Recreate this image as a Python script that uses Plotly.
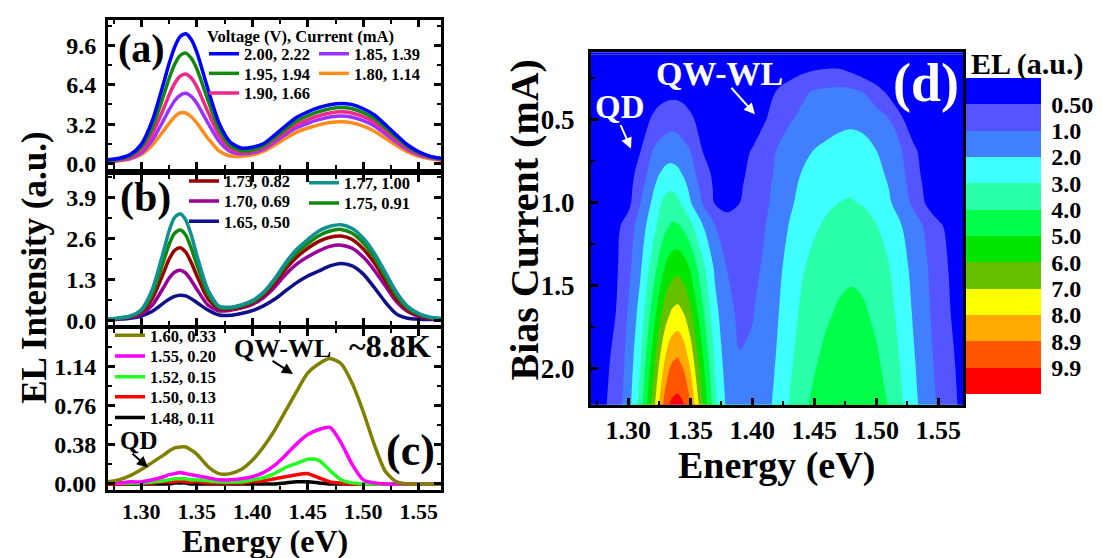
import numpy as np
import plotly.graph_objects as go

# ---------------- data ----------------
energy = [1.27, 1.28, 1.29, 1.30, 1.31, 1.32, 1.325, 1.33, 1.335, 1.34, 1.345, 1.35, 1.36, 1.37,
          1.38, 1.39, 1.40, 1.41, 1.42, 1.43, 1.44, 1.45, 1.46, 1.47, 1.48, 1.49, 1.50, 1.51,
          1.52, 1.53, 1.54, 1.55, 1.56, 1.57]

# panel (a)
el_222 = [0.30, 0.42, 0.72, 1.55, 3.50, 6.50, 8.10, 9.45, 10.32, 10.55, 10.08, 9.05, 6.05, 3.30,
          1.75, 1.25, 1.32, 1.60, 2.30, 3.05, 3.75, 4.20, 4.55, 4.78, 4.87, 4.78, 4.45, 3.95,
          3.15, 2.30, 1.50, 0.95, 0.60, 0.42]
el_194 = [0.26, 0.36, 0.62, 1.32, 2.95, 5.50, 6.90, 8.05, 8.78, 8.97, 8.55, 7.70, 5.15, 2.80,
          1.45, 1.04, 1.10, 1.42, 2.08, 2.80, 3.45, 3.88, 4.22, 4.45, 4.55, 4.45, 4.13, 3.65,
          2.90, 2.10, 1.38, 0.87, 0.56, 0.38]
el_166 = [0.22, 0.30, 0.50, 1.07, 2.40, 4.45, 5.55, 6.50, 7.10, 7.28, 6.95, 6.25, 4.20, 2.30,
          1.22, 0.92, 0.98, 1.28, 1.90, 2.57, 3.17, 3.57, 3.88, 4.10, 4.20, 4.10, 3.80, 3.35,
          2.65, 1.90, 1.24, 0.78, 0.50, 0.34]
el_139 = [0.19, 0.26, 0.42, 0.86, 1.90, 3.50, 4.35, 5.10, 5.55, 5.70, 5.45, 4.90, 3.30, 1.82,
          0.98, 0.79, 0.86, 1.15, 1.72, 2.35, 2.90, 3.27, 3.56, 3.77, 3.85, 3.76, 3.48, 3.05,
          2.40, 1.72, 1.12, 0.70, 0.45, 0.30]
el_114 = [0.16, 0.22, 0.36, 0.72, 1.50, 2.65, 3.25, 3.80, 4.12, 4.10, 3.80, 3.30, 2.05, 1.02,
          0.60, 0.58, 0.70, 0.98, 1.48, 2.05, 2.55, 2.88, 3.14, 3.33, 3.40, 3.30, 3.03, 2.62,
          2.05, 1.45, 0.93, 0.58, 0.37, 0.25]
# panel (b)
el_100 = [0.06, 0.09, 0.15, 0.35, 1.00, 2.20, 2.85, 3.28, 3.40, 3.20, 2.72, 2.08, 0.98, 0.46,
          0.43, 0.50, 0.64, 0.90, 1.32, 1.84, 2.27, 2.58, 2.85, 3.00, 3.05, 2.93, 2.62, 2.14,
          1.52, 0.90, 0.46, 0.23, 0.11, 0.07]
el_091 = [0.05, 0.08, 0.14, 0.31, 0.86, 1.88, 2.42, 2.78, 2.88, 2.72, 2.30, 1.78, 0.85, 0.42,
          0.40, 0.47, 0.60, 0.86, 1.27, 1.76, 2.16, 2.45, 2.70, 2.85, 2.90, 2.78, 2.47, 2.00,
          1.40, 0.80, 0.40, 0.20, 0.10, 0.06]
el_082 = [0.05, 0.07, 0.13, 0.27, 0.71, 1.52, 1.95, 2.23, 2.32, 2.18, 1.85, 1.43, 0.70, 0.38,
          0.37, 0.44, 0.57, 0.80, 1.18, 1.64, 2.02, 2.30, 2.52, 2.65, 2.69, 2.58, 2.28, 1.83,
          1.27, 0.70, 0.34, 0.17, 0.08, 0.05]
el_069 = [0.04, 0.06, 0.11, 0.21, 0.50, 1.05, 1.35, 1.54, 1.60, 1.51, 1.28, 1.00, 0.50, 0.31,
          0.33, 0.40, 0.52, 0.73, 1.06, 1.47, 1.80, 2.03, 2.22, 2.36, 2.40, 2.30, 2.02, 1.60,
          1.10, 0.60, 0.29, 0.14, 0.07, 0.05]
el_050 = [0.03, 0.05, 0.08, 0.15, 0.30, 0.56, 0.68, 0.77, 0.81, 0.79, 0.70, 0.58, 0.34, 0.18,
          0.17, 0.23, 0.32, 0.47, 0.68, 0.95, 1.21, 1.42, 1.58, 1.74, 1.82, 1.74, 1.48, 1.05,
          0.58, 0.21, 0.08, 0.05, 0.04, 0.04]
# panel (c)
el_033 = [0.02, 0.04, 0.08, 0.14, 0.21, 0.28, 0.32, 0.35, 0.36, 0.36, 0.33, 0.29, 0.17, 0.10,
          0.10, 0.14, 0.23, 0.36, 0.52, 0.71, 0.90, 1.08, 1.17, 1.22, 1.17, 0.98, 0.70, 0.38,
          0.12, 0.02, 0.00, 0.00, 0.00, 0.00]
el_020 = [0.01, 0.01, 0.02, 0.02, 0.04, 0.07, 0.09, 0.10, 0.11, 0.10, 0.09, 0.08, 0.06, 0.04,
          0.04, 0.05, 0.07, 0.11, 0.18, 0.28, 0.39, 0.48, 0.53, 0.55, 0.40, 0.19, 0.04, 0.01,
          0.00, 0.00, 0.00, 0.00, 0.00, 0.00]
el_015 = [0.01, 0.01, 0.01, 0.01, 0.02, 0.03, 0.04, 0.05, 0.05, 0.05, 0.04, 0.04, 0.03, 0.02,
          0.02, 0.02, 0.04, 0.06, 0.10, 0.16, 0.20, 0.24, 0.23, 0.13, 0.04, 0.01, 0.00, 0.00,
          0.00, 0.00, 0.00, 0.00, 0.00, 0.00]
el_013 = [0.00, 0.00, 0.01, 0.01, 0.01, 0.02, 0.02, 0.02, 0.03, 0.02, 0.02, 0.02, 0.01, 0.01,
          0.01, 0.01, 0.02, 0.03, 0.05, 0.07, 0.09, 0.10, 0.06, 0.02, 0.01, 0.00, 0.00, 0.00,
          0.00, 0.00, 0.00, 0.00, 0.00, 0.00]
el_011 = [0.00, 0.00, 0.00, 0.00, 0.00, 0.00, 0.00, 0.01, 0.01, 0.01, 0.00, 0.00, 0.00, 0.00,
          0.00, 0.00, 0.00, 0.00, 0.00, 0.01, 0.02, 0.02, 0.01, 0.00, 0.00, 0.00, 0.00, 0.00,
          0.00, 0.00, 0.00, 0.00, 0.00, 0.00]

labels_a = ["2.00, 2.22", "1.95, 1.94", "1.90, 1.66", "1.85, 1.39", "1.80, 1.14"]
labels_b = ["1.73, 0.82", "1.70, 0.69", "1.65, 0.50", "1.77, 1.00", "1.75, 0.91"]
labels_c = ["1.60, 0.33", "1.55, 0.20", "1.52, 0.15", "1.50, 0.13", "1.48, 0.11"]

bias_current = [0.11, 0.13, 0.15, 0.20, 0.33, 0.50, 0.69, 0.82, 0.91, 1.00, 1.14, 1.39, 1.66, 1.94, 2.22]
el_levels = [0.5, 1.0, 2.0, 3.0, 4.0, 5.0, 6.0, 7.0, 8.0, 8.9, 9.9]
level_labels = ["0.50", "1.0", "2.0", "3.0", "4.0", "5.0", "6.0", "7.0", "8.0", "8.9", "9.9"]

# ---------------- styles ----------------
F = "Liberation Serif"
W, H = 1102, 558


def fx(p):
    return p / W


def fy(p):
    return 1 - p / H


def font(size, color="black"):
    return dict(family=F, size=size, color=color, weight="bold")


series_a = [el_222, el_194, el_166, el_139, el_114]
colors_a = ["#0000FF", "#118811", "#F0288C", "#9933FF", "#FF8C1A"]
leg_a = [(201, 46.7), (201, 66.7), (201, 86.7), (311, 46.7), (311, 66.7)]

series_b = [el_082, el_069, el_050, el_100, el_091]
colors_b = ["#990000", "#990099", "#101088", "#119090", "#118811"]
leg_b = [(181, 176), (181, 196.5), (181, 217), (301, 178), (301, 198.5)]

series_c = [el_033, el_020, el_015, el_013, el_011]
colors_c = ["#808000", "#FF00FF", "#22FF22", "#FF0000", "#000000"]
leg_c = [(107, 333), (107, 354), (107, 375), (107, 395.5), (107, 416.5)]

band_colors = ["#0000FF", "#5555FF", "#4080FF", "#40FFFF", "#2AFFAA", "#00FF48",
               "#00E600", "#66C000", "#FFFF00", "#FFAA00", "#FF5500", "#FF0000"]

fig = go.Figure()
layout = {}
leg_idx = [0]


def add_panel(series, colors, labels, legpos, xa, ya, draw_order):
    for i in draw_order:
        leg_idx[0] += 1
        k = leg_idx[0]
        lname = "legend" if k == 1 else f"legend{k}"
        fig.add_trace(go.Scatter(
            x=energy, y=series[i], mode="lines", name=labels[i],
            line=dict(color=colors[i], width=3.5, shape="spline", smoothing=0.7),
            xaxis=xa, yaxis=ya, legend=lname, hoverinfo="skip"))
        lx, ly = legpos[i]
        layout[lname] = dict(x=fx(lx - 5), y=fy(ly), xanchor="left", yanchor="middle",
                             bgcolor="rgba(0,0,0,0)", borderwidth=0, font=font(16.5),
                             itemwidth=30, tracegroupgap=0)


add_panel(series_a, colors_a, labels_a, leg_a, "x", "y", [4, 3, 2, 1, 0])
add_panel(series_b, colors_b, labels_b, leg_b, "x2", "y2", [2, 1, 0, 4, 3])
add_panel(series_c, colors_c, labels_c, leg_c, "x3", "y3", [4, 3, 2, 1, 0])

# ---------------- contour (d) ----------------
z = np.array([el_011, el_013, el_015, el_020, el_033, el_050, el_069, el_082, el_091,
              el_100, el_114, el_139, el_166, el_194, el_222])
# map intensities onto (negated) level-index space: the non-uniform levels become uniform,
# and the colour bar reads low -> high from top to bottom as in the original
n_lev = len(el_levels)
z_idx = -np.interp(z, [0.0] + el_levels + [12.0], list(range(n_lev + 2)))
rev_colors = band_colors[::-1]
cscale = [[i / n_lev, c] for i, c in enumerate(rev_colors)]

fig.add_trace(go.Contour(
    x=energy, y=bias_current, z=z_idx, xaxis="x4", yaxis="y4",
    contours=dict(start=-n_lev, end=-1, size=1, coloring="fill", showlines=False),
    line=dict(width=0, smoothing=1.0), colorscale=cscale, hoverinfo="skip",
    showscale=False))

# discrete colour bar with full-height bands (one band per level interval)
step_scale = []
for i, c in enumerate(rev_colors):
    step_scale += [[i / (n_lev + 1), c], [(i + 1) / (n_lev + 1), c]]
fig.add_trace(go.Scatter(
    x=[None], y=[None], mode="markers", xaxis="x4", yaxis="y4", showlegend=False,
    hoverinfo="skip",
    marker=dict(color=[-1], cmin=-(n_lev + 1), cmax=0, colorscale=step_scale, showscale=True,
                colorbar=dict(x=fx(958), xanchor="left", y=fy(71), yanchor="top",
                              len=316, lenmode="pixels", thickness=75, thicknessmode="pixels",
                              xpad=0, ypad=0, outlinewidth=0, tickmode="array",
                              tickvals=[-(i + 1) for i in range(n_lev)],
                              ticktext=level_labels, ticks="outside", ticklen=6,
                              tickcolor="rgba(0,0,0,0)", tickfont=font(24)))))

# ---------------- axes ----------------
LX = [fx(100), fx(433)]
minor_x = dict(ticks="inside", ticklen=4, tickwidth=2, tickcolor="black", dtick=0.025, tick0=1.3)


def xax(domain, anchor, labels, size=22, mirror="ticks"):
    return dict(domain=domain, anchor=anchor, range=[1.27, 1.57], tick0=1.3, dtick=0.05,
                tickformat=".2f", showticklabels=labels, ticks="inside", ticklen=7,
                tickwidth=2.5, tickcolor="black", minor=minor_x, showline=True,
                linecolor="black", linewidth=3, mirror=mirror, showgrid=False,
                zeroline=False, tickfont=font(size), ticklabelstandoff=0)


def yax(domain, anchor, rng, dtick, fmt, size=24, mirror="ticks", tick0=0):
    return dict(domain=domain, anchor=anchor, range=rng, tick0=tick0, dtick=dtick,
                tickformat=fmt, ticks="inside", ticklen=7, tickwidth=2.5, tickcolor="black",
                minor=dict(ticks="inside", ticklen=4, tickwidth=2, tickcolor="black",
                           dtick=dtick / 2, tick0=tick0),
                showline=True, linecolor="black", linewidth=3, mirror=mirror,
                showgrid=False, zeroline=False, tickfont=font(size), ticklabelstandoff=4)


layout.update(
    xaxis=xax(LX, "y", False),
    yaxis=yax([fy(164), fy(12)], "x", [-0.48, 11.68], 3.2, ".1f"),
    xaxis2=xax(LX, "y2", False),
    yaxis2=yax([fy(322), fy(170)], "x2", [-0.13, 4.62], 1.3, ".1f"),
    xaxis3=xax(LX, "y3", True),
    yaxis3=yax([fy(490), fy(326)], "x3", [-0.06, 1.51], 0.38, ".2f"),
    xaxis4=xax([fx(583), fx(955)], "y4", True, size=26, mirror=True),
    yaxis4=yax([fy(403), fy(45)], "x4", [2.215, 0.095], 0.5, ".1f", size=27, mirror=True,
               tick0=0.5),
)
layout["yaxis4"]["ticklabelstandoff"] = 8

# ---------------- annotations ----------------
ann = []


def text(x, y, s, size, color="black", angle=0):
    ann.append(dict(x=fx(x), y=fy(y), xref="paper", yref="paper", text=s, showarrow=False,
                    font=font(size, color), textangle=angle, xanchor="center",
                    yanchor="middle"))


def arrow(hx, hy, tx, ty, color="black"):
    ann.append(dict(x=fx(hx), y=fy(hy), xref="paper", yref="paper", text="",
                    showarrow=True, ax=tx - hx, ay=ty - hy, axref="pixel", ayref="pixel",
                    arrowhead=2, arrowsize=1.1, arrowwidth=2, arrowcolor=color))


text(27, 264, "EL Intensity (a.u.)", 35, angle=-90)
text(257, 542, "Energy (eV)", 32)
text(768, 465, "Energy (eV)", 38)
text(517, 216, "Bias Current (mA)", 40, angle=-90)
text(1020, 57, "EL (a.u.)", 30)
text(133, 41, "(a)", 40)
text(137, 193, "(b)", 42)
text(402, 450, "(c)", 44)
text(918, 76, "(d)", 54, color="white")
text(292, 29, "Voltage (V), Current (mA)", 16.6)
text(382, 344, "~8.8K", 32)
text(274, 346, "QW-WL", 26)
arrow(285, 372, 263, 358)
text(131, 440, "QD", 25)
arrow(140, 467, 123, 452)
text(612, 101, "QD", 33, color="white")
arrow(623, 143, 612, 118, color="white")
text(711, 67, "QW-WL", 34, color="white")
arrow(747, 108, 722, 80, color="white")

layout.update(
    width=W, height=H, margin=dict(l=0, r=0, t=0, b=0),
    paper_bgcolor="white", plot_bgcolor="white", annotations=ann, showlegend=True,
    shapes=[dict(type="rect", xref="x4 domain", yref="y4 domain", x0=0, x1=1, y0=0, y1=1,
                 fillcolor="#0000FF", line=dict(width=0), layer="below")],
)
fig.update_layout(**layout)
fig.write_html("out.html")
